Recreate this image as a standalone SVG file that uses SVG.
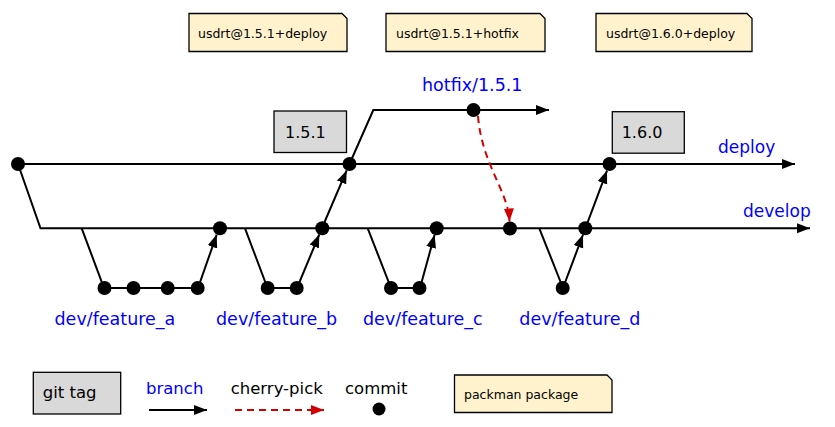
<svg xmlns="http://www.w3.org/2000/svg" width="835" height="427" viewBox="0 0 835 427">
<defs>
<marker id="ah" markerUnits="userSpaceOnUse" markerWidth="14" markerHeight="12" viewBox="0 0 14 12" refX="13" refY="6" orient="auto"><path d="M0,1 L13,6 L0,11 Z" fill="#000"/></marker>
<marker id="ahr" markerUnits="userSpaceOnUse" markerWidth="14" markerHeight="12" viewBox="0 0 14 12" refX="13" refY="6" orient="auto"><path d="M0,1 L13,6 L0,11 Z" fill="#d40000"/></marker>
</defs>
<style>
text{font-family:"DejaVu Sans","Liberation Sans",sans-serif;}
.br{fill:#0000ff;font-size:17px;}
.fb{fill:#0000ff;font-size:17.5px;}
.lg{fill:#000;font-size:16.5px;}
.pk{fill:#000;font-size:12.5px;}
.tg{fill:#000;font-size:16px;}
.note{fill:#fff2cc;stroke:#000;stroke-width:1.3;}
.tag{fill:#d9d9d9;stroke:#000;stroke-width:1.3;}
.ln{fill:none;stroke:#000;stroke-width:2;}
.ar{fill:none;stroke:#000;stroke-width:2;marker-end:url(#ah);}
.cp{fill:none;stroke:#d40000;stroke-width:2;stroke-dasharray:7,5;marker-end:url(#ahr);}
.c{fill:#000;}
</style>
<g id="connectors">
<polyline class="ar" points="18,164 795,164"/>
<polyline class="ar" points="18,164 40.5,228.3 810,228.3"/>
<polyline class="ln" points="81.7,228.3 104,288 198,288"/>
<line class="ar" x1="198" y1="288" x2="216.7" y2="234.6"/>
<polyline class="ln" points="245,228.3 267.5,288 297,288"/>
<line class="ar" x1="297" y1="288" x2="319.3" y2="234.5"/>
<line class="ar" x1="322" y1="228" x2="346.7" y2="170.4"/>
<polyline class="ar" points="349.5,164 373.3,110 549,110"/>
<polyline class="ln" points="367.7,228.3 391,288 420,288"/>
<line class="ar" x1="420" y1="288" x2="434.6" y2="234.8"/>
<polyline class="ln" points="539.3,228.3 563,288"/>
<line class="ar" x1="563" y1="288" x2="583" y2="234.6"/>
<line class="ar" x1="585.5" y1="228" x2="607" y2="170.6"/>
<path class="cp" d="M478,116 C482,165 508,190 509.5,221.5"/>
</g>
<g id="commits">
<circle class="c" cx="18" cy="164" r="7"/>
<circle class="c" cx="104.5" cy="288" r="7"/>
<circle class="c" cx="133.5" cy="288" r="7"/>
<circle class="c" cx="167.7" cy="288" r="7"/>
<circle class="c" cx="197.7" cy="288" r="7"/>
<circle class="c" cx="220" cy="228.3" r="7"/>
<circle class="c" cx="267.7" cy="288" r="7"/>
<circle class="c" cx="296.7" cy="288" r="7"/>
<circle class="c" cx="322.3" cy="228.3" r="7"/>
<circle class="c" cx="349.5" cy="164" r="7"/>
<circle class="c" cx="473.5" cy="110" r="7"/>
<circle class="c" cx="391" cy="288" r="7"/>
<circle class="c" cx="419.5" cy="288" r="7"/>
<circle class="c" cx="436.7" cy="228.3" r="7"/>
<circle class="c" cx="510" cy="228.5" r="7"/>
<circle class="c" cx="562.7" cy="288" r="7"/>
<circle class="c" cx="585.3" cy="228.3" r="7"/>
<circle class="c" cx="609.5" cy="164" r="7"/>
</g>
<g id="pkg-151-deploy">
<path class="note" d="M189,13.5 H342 L347,18.5 V51.5 H189 Z"/>
<text class="pk" x="198" y="38">usdrt@1.5.1+deploy</text>
</g>
<g id="pkg-151-hotfix">
<path class="note" d="M386,13.5 H540 L545,18.5 V51.5 H386 Z"/>
<text class="pk" x="396" y="38">usdrt@1.5.1+hotfix</text>
</g>
<g id="pkg-160-deploy">
<path class="note" d="M596,13.5 H747 L752,18.5 V51.5 H596 Z"/>
<text class="pk" x="606" y="38">usdrt@1.6.0+deploy</text>
</g>
<g id="tag-151">
<rect class="tag" x="274" y="111" width="72.5" height="41.5"/>
<text class="tg" x="285" y="138">1.5.1</text>
</g>
<g id="tag-160">
<rect class="tag" x="612.3" y="111.7" width="72" height="41.5"/>
<text class="tg" x="621.7" y="138.3">1.6.0</text>
</g>
<g id="labels">
<text class="fb" x="422" y="91">hotfix/1.5.1</text>
<text class="br" x="718" y="153">deploy</text>
<text class="br" x="743" y="217">develop</text>
<text class="fb" x="54.5" y="325">dev/feature_a</text>
<text class="fb" x="216" y="325">dev/feature_b</text>
<text class="fb" x="363" y="325">dev/feature_c</text>
<text class="fb" x="519.3" y="325">dev/feature_d</text>
</g>
<g id="legend">
<rect class="tag" x="33.3" y="372.3" width="87.4" height="41.7"/>
<text class="lg" x="42.7" y="398">git tag</text>
<text class="lg" x="146" y="394" style="fill:#0000ff">branch</text>
<line class="ar" x1="149" y1="410" x2="207" y2="410"/>
<text class="lg" x="230.7" y="394">cherry-pick</text>
<line class="cp" x1="235" y1="410" x2="324" y2="410"/>
<text class="lg" x="345" y="394">commit</text>
<circle class="c" cx="379" cy="409" r="6.5"/>
<path class="note" d="M454.5,375 H607 L612,380 V412.5 H454.5 Z"/>
<text class="pk" x="464" y="399">packman package</text>
</g>
</svg>
